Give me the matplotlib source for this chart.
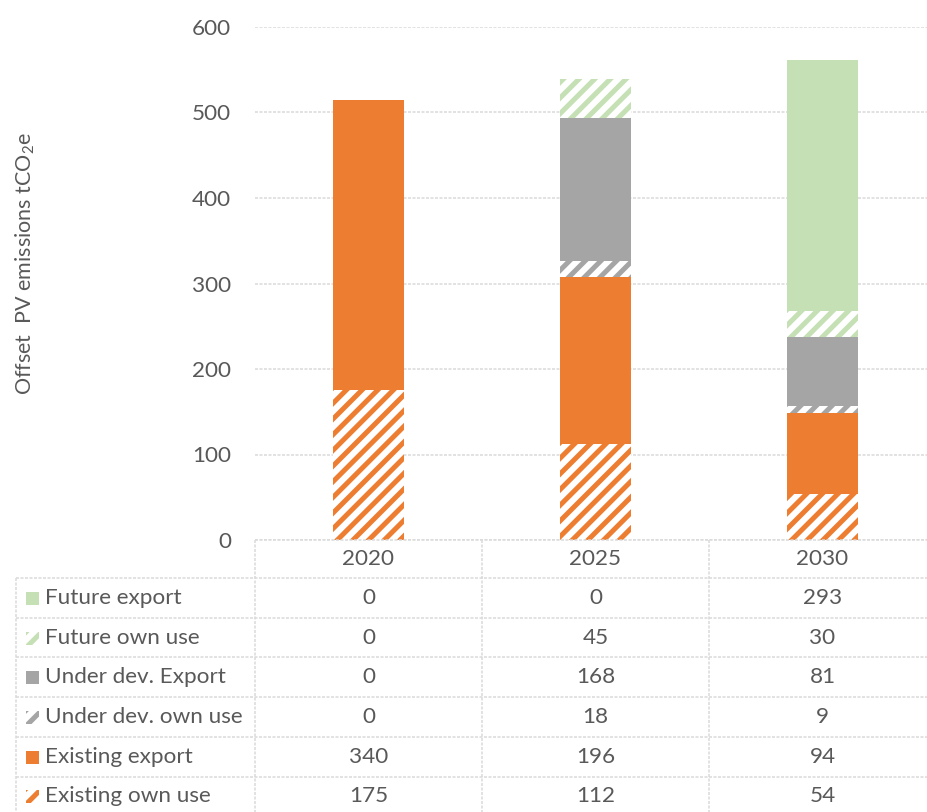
import matplotlib
matplotlib.use("Agg")
import matplotlib.pyplot as plt
from matplotlib.patches import Rectangle
import numpy as np

# data
years = ["2020", "2025", "2030"]
existing_own = [175, 112, 54]
existing_export = [340, 196, 94]
underdev_own = [0, 18, 9]
underdev_export = [0, 168, 81]
future_own = [0, 45, 30]
future_export = [0, 0, 293]

ORANGE = "#ED7D31"
GREY = "#A5A5A5"
GREEN = "#C5E0B4"
TXT = "#595959"
LINE = "#D9D9D9"

# stacking order bottom -> top (label, values, colour, hatched?)
series = [
    ("Existing own use", existing_own, ORANGE, True),
    ("Existing export", existing_export, ORANGE, False),
    ("Under dev. own use", underdev_own, GREY, True),
    ("Under dev. Export", underdev_export, GREY, False),
    ("Future own use", future_own, GREEN, True),
    ("Future export", future_export, GREEN, False),
]

DPI = 94
W, H = 927, 812


def pt(px):
    # pixel size -> points at this dpi
    return px * 72 / DPI


plt.rcParams['font.family'] = ['Lato', 'DejaVu Sans']
plt.rcParams['hatch.linewidth'] = pt(5)
plt.rcParams['mathtext.fontset'] = 'custom'
plt.rcParams['mathtext.rm'] = 'Lato'

FS = pt(22.5)

fig = plt.figure(figsize=(W / DPI, H / DPI), dpi=DPI)

# pixel layout
x_left, x_right = 255, 936
y_top, y_base = 27, 540
ax = fig.add_axes([x_left / W, (H - y_base) / H, (x_right - x_left) / W, (y_base - y_top) / H])

x = np.arange(len(years))
bottom = np.zeros(len(years))
for name, vals, col, hatched in series:
    vals = np.array(vals, dtype=float)
    if hatched:
        ax.bar(x, vals, 0.31, bottom=bottom, color="white", edgecolor=col,
               linewidth=0, hatch="//", zorder=3)
    else:
        ax.bar(x, vals, 0.31, bottom=bottom, color=col, linewidth=0, zorder=3)
    bottom += vals

ax.set_xlim(-0.5, 2.5)
ax.set_ylim(0, 600)
ax.set_yticks(range(0, 601, 100))
ax.set_xticks([])
ax.tick_params(axis='y', length=0, pad=pt(24), labelsize=FS, labelcolor=TXT)
for s in ax.spines.values():
    s.set_visible(False)
ax.yaxis.grid(True, color=LINE, linewidth=pt(1.5), linestyle=(0, (2, 1)), zorder=0)
ax.set_axisbelow(True)

fig.text(25 / W, 1 - 264 / H, "Offset  PV emissions tCO$_2$e", rotation=90,
         ha="center", va="center", fontsize=pt(21.5), color=TXT)

# data table under the plot
tab = fig.add_axes([0, 0, 1, 1], zorder=5)
tab.set_xlim(0, W)
tab.set_ylim(H, 0)
tab.axis("off")
tab.patch.set_alpha(0)

col_edges = [255, 482, 709, 936]
label_left = 16
row_edges = [540, 578] + [578 + 39.7 * (i + 1) for i in range(6)]
lk = dict(color=LINE, linewidth=pt(1.5), linestyle=(0, (2, 1)))

tab.plot([col_edges[0], col_edges[-1]], [row_edges[0]] * 2, **lk)
for ry in row_edges[1:]:
    tab.plot([label_left, col_edges[-1]], [ry, ry], **lk)
tab.plot([label_left, label_left], [row_edges[1], H + 10], **lk)
for cx in col_edges:
    tab.plot([cx, cx], [row_edges[0], H + 10], **lk)

for j, yr in enumerate(years):
    cxm = (col_edges[j] + col_edges[j + 1]) / 2
    tab.text(cxm, (row_edges[0] + row_edges[1]) / 2, yr, ha="center", va="center",
             fontsize=FS, color=TXT)

for i, (name, vals, col, hatched) in enumerate(series[::-1]):
    ry0, ry1 = row_edges[i + 1], row_edges[i + 2]
    cy = (ry0 + ry1) / 2
    if hatched:
        tab.add_patch(Rectangle((26, cy - 6), 13, 13, facecolor="white", edgecolor=col,
                                linewidth=0, hatch="//"))
    else:
        tab.add_patch(Rectangle((26, cy - 6), 13, 13, facecolor=col, linewidth=0))
    tab.text(45, cy, name, ha="left", va="center", fontsize=FS, color=TXT)
    for j, v in enumerate(vals):
        cxm = (col_edges[j] + col_edges[j + 1]) / 2
        tab.text(cxm, cy, str(v), ha="center", va="center", fontsize=FS, color=TXT)

fig.savefig("out.png", dpi=DPI)
